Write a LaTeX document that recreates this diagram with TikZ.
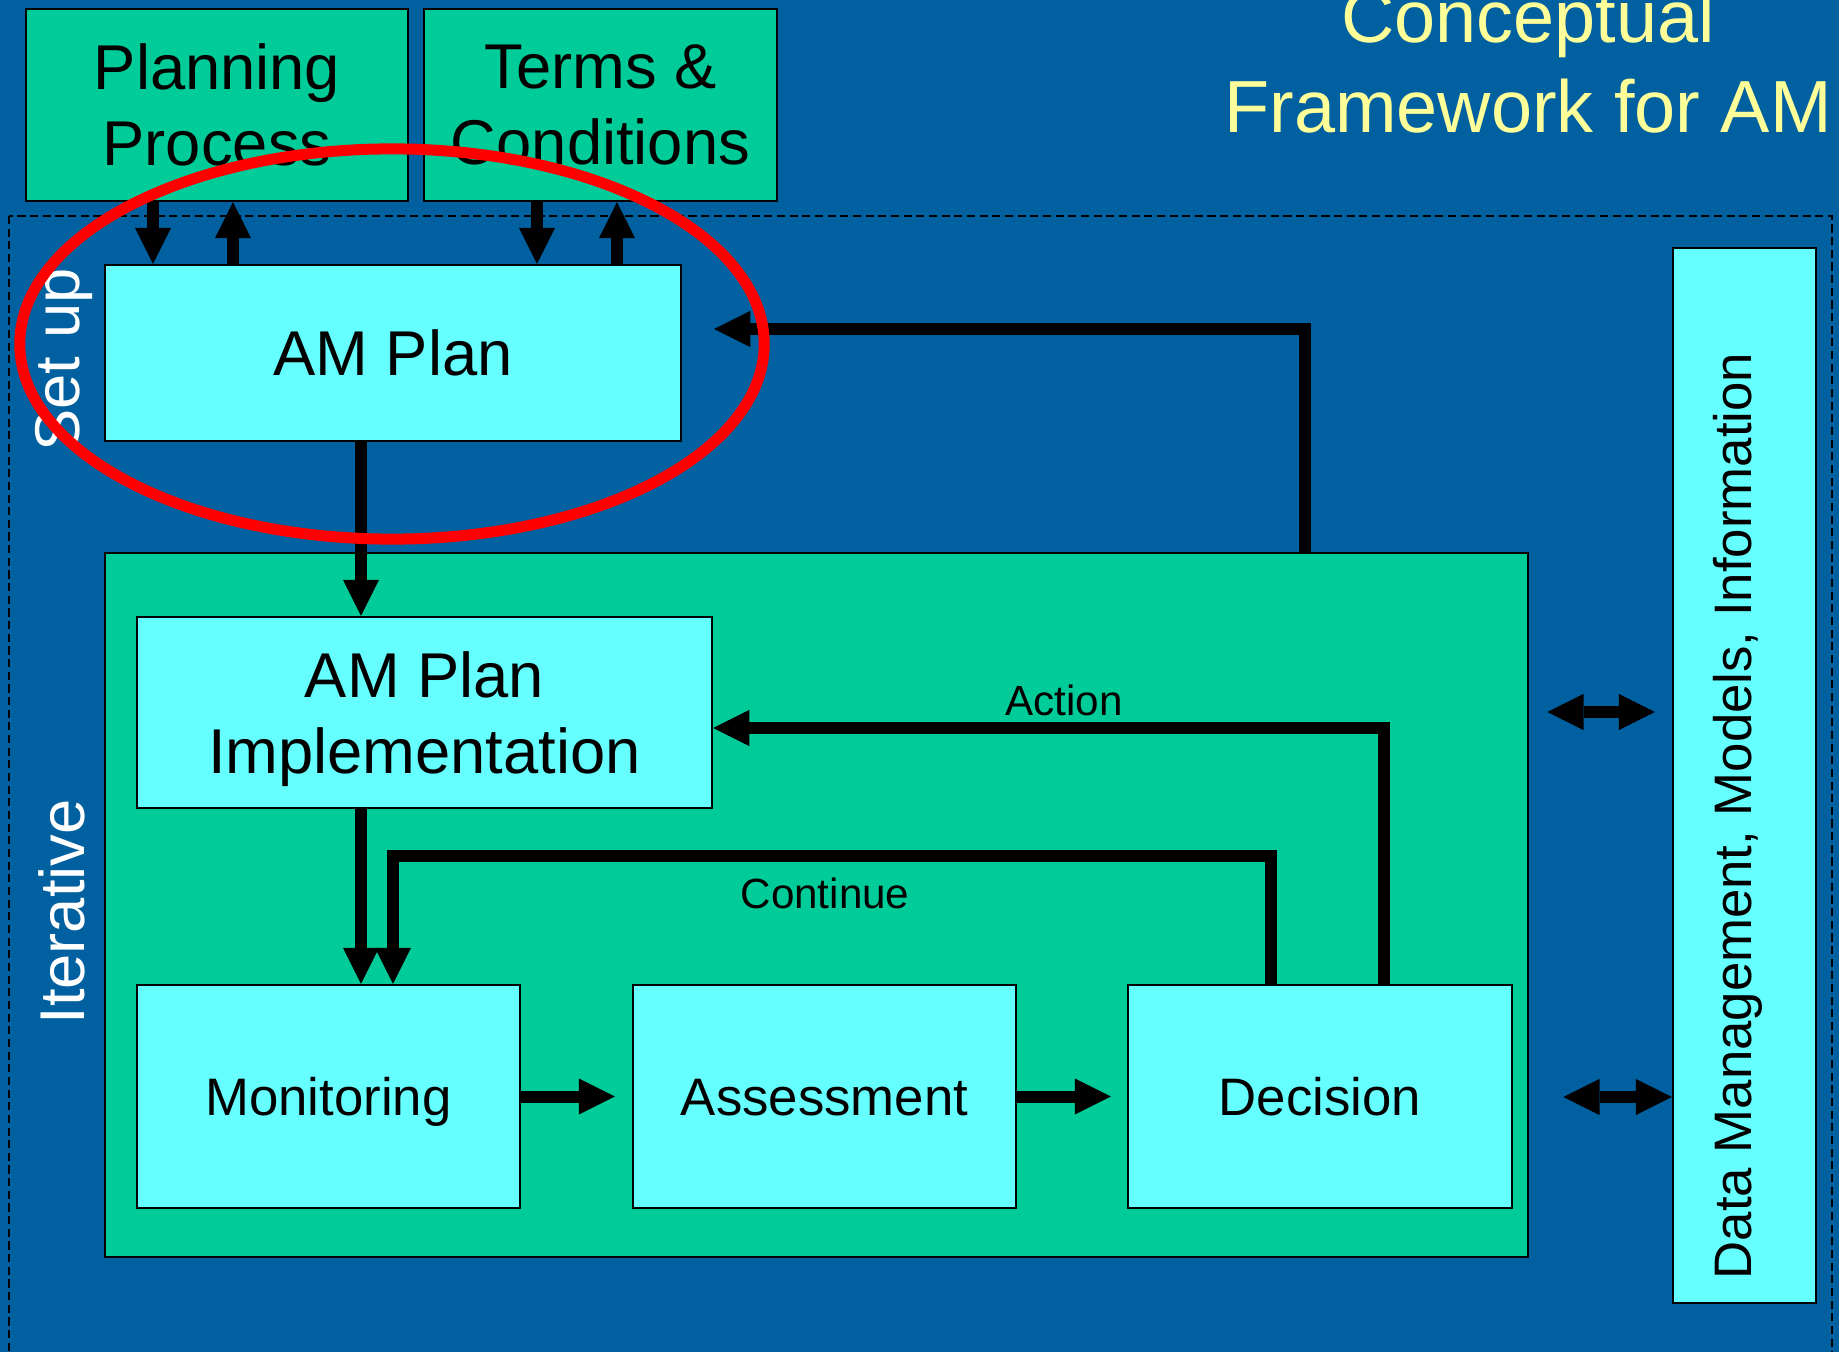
\documentclass[tikz,border=0pt]{standalone}
\usepackage{fontspec}
\setmainfont{Liberation Sans}
\usetikzlibrary{arrows.meta}

\definecolor{slideblue}{RGB}{0,96,160}
\definecolor{boxgreen}{RGB}{0,204,153}
\definecolor{boxcyan}{RGB}{102,255,255}
\definecolor{titleyellow}{RGB}{255,255,153}

\begin{document}
\begin{tikzpicture}[x=0.01cm, y=-0.01cm,
  box/.style={draw=black, line width=0.6pt, inner sep=0pt, align=center,
    font=\fontsize{18}{21.7}\selectfont},
  green box/.style={box, fill=boxgreen},
  cyan box/.style={box, fill=boxcyan},
  small box/.style={cyan box, text height=10.7pt, text depth=0pt,
    font=\fontsize{15}{18}\selectfont},
  side/.style={white, rotate=90, anchor=base, font=\fontsize{18}{21.7}\selectfont},
  lbl/.style={font=\fontsize{12}{14}\selectfont},
  arr/.style={line width=0.12cm, -{Triangle[length=0.36cm, width=0.36cm, line width=0pt]}},
  twoway/.style={line width=0.12cm,
    {Triangle[length=0.36cm, width=0.36cm, line width=0pt]}-{Triangle[length=0.36cm, width=0.36cm, line width=0pt]}}]
\useasboundingbox (0,0) rectangle (1839,1352);
\clip (0,0) rectangle (1839,1352);
\fill[slideblue] (0,0) rectangle (1839,1352);

% set-up frame
\draw[line width=0.45pt, dash pattern=on 2.3pt off 1.3pt] (9,216) rectangle (1832,1370);

% title (base is the last line)
\node[titleyellow, align=center, anchor=base, font=\fontsize{21}{25.6}\selectfont]
  (title) at (1528,133) {Conceptual\\Framework for AM};

% inputs and plan
\node[green box, minimum width=3.82cm, minimum height=1.92cm] (planning) at (217,105) {Planning\\Process};
\node[green box, minimum width=3.53cm, minimum height=1.92cm] (terms) at (600.5,105) {Terms \&\\Conditions};
\node[cyan box, minimum width=5.76cm, minimum height=1.76cm] (amplan) at (393,353) {AM Plan};

% iterative loop
\node[green box, minimum width=14.23cm, minimum height=7.04cm] (iter) at (816.5,905) {};
\node[cyan box, text depth=0pt, minimum width=5.75cm, minimum height=1.91cm] (impl) at (424.5,712.5) {AM Plan\\Implementation};
\node[small box, minimum width=3.83cm, minimum height=2.23cm] (monitor) at (328.5,1096.5) {Monitoring};
\node[small box, minimum width=3.83cm, minimum height=2.23cm] (assess) at (824.5,1096.5) {Assessment};
\node[small box, minimum width=3.84cm, minimum height=2.23cm] (decision) at (1320,1096.5) {Decision};

% data column
\node[small box, minimum width=1.43cm, minimum height=10.55cm] (data) at (1744.5,775.5) {};
\node[rotate=90, anchor=base, font=\fontsize{15}{18}\selectfont] (datatext) at (1751,816)
  {Data Management, Models, Information};

\node[side] (setup) at (79,360) {Set up};
\node[side] (iterative) at (84,912) {Iterative};

% connectors
\draw[arr] (planning.south -| 153,0) -- (amplan.north -| 153,0);
\draw[arr] (amplan.north -| 233,0) -- (planning.south -| 233,0);
\draw[arr] (terms.south -| 537,0) -- (amplan.north -| 537,0);
\draw[arr] (amplan.north -| 617,0) -- (terms.south -| 617,0);
\draw[arr] (amplan.south -| 361,0) -- (impl.north -| 361,0);
\draw[arr] (iter.north -| 1305,0) |- ([shift={(32,-24)}]amplan.east);

\draw[arr] (decision.north -| 1384,0) |- (impl.east |- 0,728);
\node[lbl] (action) at (1064,700) {Action};
\draw[arr] (decision.north -| 1271,0) -- ++(0,-128) -| (monitor.north -| 393,0);
\node[lbl] (continue) at (825,893) {Continue};
\draw[arr] (impl.south -| 361,0) -- (monitor.north -| 361,0);

\draw[arr] (monitor.east) -- ([xshift=-0.17cm]assess.west);
\draw[arr] (assess.east) -- ([xshift=-0.16cm]decision.west);

\draw[twoway] ([shift={(18,-193)}]iter.east) -- ([shift={(-17,-63.5)}]data.west);
\draw[twoway] ([shift={(34,192)}]iter.east) -- (data.west |- 0,1097);

% highlight
\draw[red, line width=0.11cm] (392,344) ellipse [x radius=3.72cm, y radius=1.95cm];
\end{tikzpicture}
\end{document}
